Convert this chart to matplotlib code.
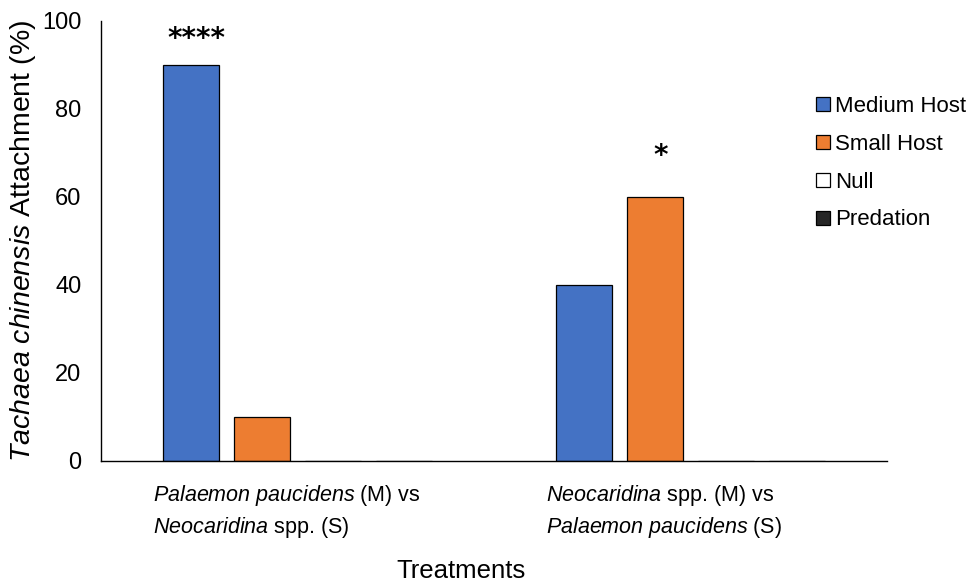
import numpy as np
import matplotlib
matplotlib.use("Agg")
from matplotlib import pyplot as plt
from matplotlib.patches import Patch

plt.rcParams['font.family'] = ['Liberation Sans', 'DejaVu Sans']
plt.rcParams['mathtext.fontset'] = 'custom'
plt.rcParams['mathtext.rm'] = 'Liberation Sans'
plt.rcParams['mathtext.it'] = 'Liberation Sans:italic'

# attachment (%) per treatment
treatments = [
    r"$\it{Palaemon\ paucidens}$ (M) vs" + "\n" + r"$\it{Neocaridina}$ spp. (S)",
    r"$\it{Neocaridina}$ spp. (M) vs" + "\n" + r"$\it{Palaemon\ paucidens}$ (S)",
]
series = ["Medium Host", "Small Host", "Null", "Predation"]
medium_host = [90, 40]
small_host = [10, 60]
null = [0, 0]
predation = [0, 0]
signif = ["****", "*"]
star_gap = [6.0, 9.4]
colors = ["#4472C4", "#ED7D31", "#FFFFFF", "#262626"]

values = [medium_host, small_host, null, predation]

fig = plt.figure(figsize=(9.72, 5.83), dpi=100)
ax = fig.add_axes([0.1039, 0.2093, 0.8087, 0.7547])

x = np.arange(len(treatments))
step = 0.1807
width = 0.1425
for i, (name, vals, c) in enumerate(zip(series, values, colors)):
    ax.bar(x + (i - 1.5) * step, vals, width, color=c, edgecolor="black",
           linewidth=0.9, label=name)

# significance stars above the larger bar of each pair
for j in range(len(treatments)):
    k = int(np.argmax([medium_host[j], small_host[j]]))
    top = max(medium_host[j], small_host[j])
    ax.text(x[j] + (k - 1.5) * step + 0.015, top + star_gap[j], signif[j],
            ha="center", va="center", fontsize=20, fontweight="bold",
            family="DejaVu Sans")

ax.set_xlim(-0.5, 1.5)
ax.set_ylim(0, 100)
ax.set_yticks(np.arange(0, 101, 20))
ax.tick_params(axis="y", length=0, labelsize=17, pad=14)
ax.tick_params(axis="x", length=0)
ax.set_xticks([])
for s in ["top", "right"]:
    ax.spines[s].set_visible(False)
ax.spines["left"].set_linewidth(1.0)
ax.spines["bottom"].set_linewidth(1.0)

for j, lab in enumerate(treatments):
    ax.text(x[j] - 0.368, -5.0, lab, ha="left", va="top", fontsize=15.5,
            linespacing=1.4)

ax.set_ylabel(r"$\it{Tachaea\ chinensis}$ Attachment (%)", fontsize=20.5,
              va="center")
ax.yaxis.set_label_coords(-0.099, 0.5)
fig.text(0.474, 0.0086, "Treatments", ha="center", va="baseline", fontsize=18.5)

handles = [Patch(facecolor=c, edgecolor="black", linewidth=0.9) for c in colors]
ax.legend(handles, series, loc="upper left", bbox_to_anchor=(0.91, 0.83),
          frameon=False, fontsize=16, handlelength=0.6, handleheight=0.6,
          handletextpad=0.25, labelspacing=0.76, borderaxespad=0, borderpad=0)

fig.savefig("out.png", dpi=100)
